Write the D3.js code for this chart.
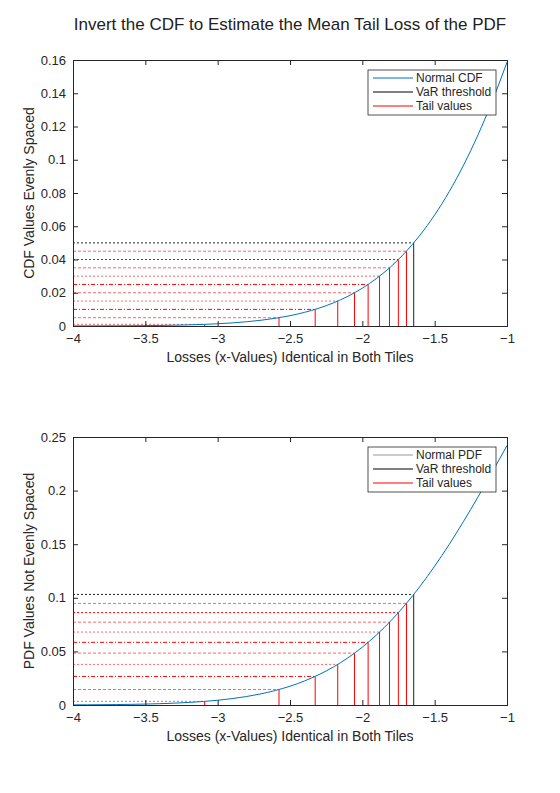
<!DOCTYPE html>
<html><head><meta charset="utf-8">
<script src="https://cdn.jsdelivr.net/npm/d3@7"></script>
<style>body{margin:0;background:#fff}text{font-family:Arial,"Liberation Sans",sans-serif}</style>
</head><body><svg id="c" width="560" height="793"></svg>
<script>
const xs=[-4,-3.9,-3.8,-3.7,-3.6,-3.5,-3.4,-3.3,-3.2,-3.1,-3,-2.9,-2.8,-2.7,-2.6,-2.5,-2.4,-2.3,-2.2,-2.1,-2,-1.9,-1.8,-1.7,-1.6,-1.5,-1.4,-1.3,-1.2,-1.1,-1];
const cdfVals=[0.0000317,0.0000481,0.0000723,0.000108,0.000159,0.000233,0.000337,0.000483,0.000687,0.000968,0.00135,0.00187,0.00256,0.00347,0.00466,0.00621,0.0082,0.01072,0.0139,0.01786,0.02275,0.02872,0.03593,0.04457,0.0548,0.06681,0.08076,0.0968,0.11507,0.13567,0.15866];
const pdfVals=[0.000134,0.000199,0.000292,0.000425,0.000612,0.000873,0.00123,0.00172,0.00238,0.00327,0.00443,0.00595,0.00792,0.01042,0.01358,0.01753,0.02239,0.02833,0.03547,0.04398,0.05399,0.06562,0.07895,0.09405,0.11092,0.12952,0.14973,0.17137,0.19419,0.21785,0.24197];
const tailX=[-3.090,-2.576,-2.326,-2.170,-2.054,-1.960,-1.881,-1.812,-1.751,-1.695];
const tailCdf=[0.001,0.005,0.01,0.015,0.02,0.025,0.03,0.035,0.04,0.045];
const tailPdf=[0.00337,0.01446,0.02665,0.03787,0.04842,0.05845,0.06804,0.07727,0.08617,0.09477];
const varX=-1.645, varCdf=0.05, varPdf=0.10314;
const xTicks=[-4,-3.5,-3,-2.5,-2,-1.5,-1];
const topTicks=[0,0.02,0.04,0.06,0.08,0.1,0.12,0.14,0.16];
const botTicks=[0,0.05,0.1,0.15,0.2,0.25];

const svg=d3.select("#c");
svg.append("text").attr("x",290).attr("y",30).attr("text-anchor","middle").attr("font-size",17).attr("fill","#222").text("Invert the CDF to Estimate the Mean Tail Loss of the PDF");
const dashes=["2,2","3,2","4,2,1,2","2,2","3,2","4,2,1,2","2,2","3,2","2,2","3,2"];

function panel(top,bottom,ymax,ticks,vals,tailY,varY,ylab,legNames,curveCol){
  const x=d3.scaleLinear().domain([-4,-1]).range([73,507]);
  const y=d3.scaleLinear().domain([0,ymax]).range([bottom,top]);
  const g=svg.append("g");
  // tails
  tailX.forEach((tx,i)=>{
    g.append("line").attr("x1",x(-4)).attr("x2",x(tx)).attr("y1",y(tailY[i])).attr("y2",y(tailY[i]))
     .attr("stroke","red").attr("stroke-opacity",i%3==2?1:0.6).attr("stroke-width",1).attr("stroke-dasharray",dashes[i]);
    g.append("line").attr("x1",x(tx)).attr("x2",x(tx)).attr("y1",y(0)).attr("y2",y(tailY[i]))
     .attr("stroke","red").attr("stroke-width",1);
  });
  g.append("line").attr("x1",x(-4)).attr("x2",x(varX)).attr("y1",y(varY)).attr("y2",y(varY)).attr("stroke","#222").attr("stroke-dasharray","2,2");
  g.append("line").attr("x1",x(varX)).attr("x2",x(varX)).attr("y1",y(0)).attr("y2",y(varY)).attr("stroke","#222");
  g.append("path").datum(xs.map((d,i)=>[d,vals[i]])).attr("fill","none").attr("stroke","#0072BD").attr("stroke-width",1)
   .attr("d",d3.line().x(d=>x(d[0])).y(d=>y(d[1])).curve(d3.curveMonotoneX));
  // axes
  const ax=g.append("g").attr("transform",`translate(0,${bottom})`).call(d3.axisBottom(x).tickValues(xTicks).tickSize(-5).tickPadding(8).tickFormat(d3.format("")));
  g.append("g").attr("transform",`translate(0,${top})`).call(d3.axisTop(x).tickValues(xTicks).tickSize(-5).tickFormat(""));
  g.append("g").attr("transform",`translate(73,0)`).call(d3.axisLeft(y).tickValues(ticks).tickSize(-5).tickPadding(7).tickFormat(d3.format("")));
  g.append("g").attr("transform",`translate(507,0)`).call(d3.axisRight(y).tickValues(ticks).tickSize(-5).tickFormat(""));
  g.selectAll(".domain").attr("stroke","#262626");
  g.selectAll(".tick line").attr("stroke","#262626");
  g.selectAll(".tick text").attr("font-size",13).attr("fill","#262626");
  g.append("text").attr("x",290).attr("y",bottom+36).attr("text-anchor","middle").attr("font-size",14).attr("fill","#262626").text("Losses (x-Values) Identical in Both Tiles");
  g.append("text").attr("transform",`translate(34,${(top+bottom)/2}) rotate(-90)`).attr("text-anchor","middle").attr("font-size",14).attr("fill","#262626").text(ylab);
  // legend
  const lg=g.append("g").attr("transform",`translate(368,${top+10})`);
  lg.append("rect").attr("width",128).attr("height",45).attr("fill","#fff").attr("stroke","#262626").attr("stroke-width",0.8);
  const cols=[curveCol,"#000","red"];
  legNames.forEach((n,i)=>{
    lg.append("line").attr("x1",5).attr("x2",45).attr("y1",8+i*14).attr("y2",8+i*14).attr("stroke",cols[i]).attr("stroke-width",i==0&&curveCol!="#0072BD"?0.6:1);
    lg.append("text").attr("x",48).attr("y",12+i*14).attr("font-size",12).attr("fill","#262626").text(n);
  });
}
panel(60,326,0.16,topTicks,cdfVals,tailCdf,varCdf,"CDF Values Evenly Spaced",["Normal CDF","VaR threshold","Tail values"],"#0072BD");
panel(437,705,0.25,botTicks,pdfVals,tailPdf,varPdf,"PDF Values Not Evenly Spaced",["Normal PDF","VaR threshold","Tail values"],"#555");
</script></body></html>
